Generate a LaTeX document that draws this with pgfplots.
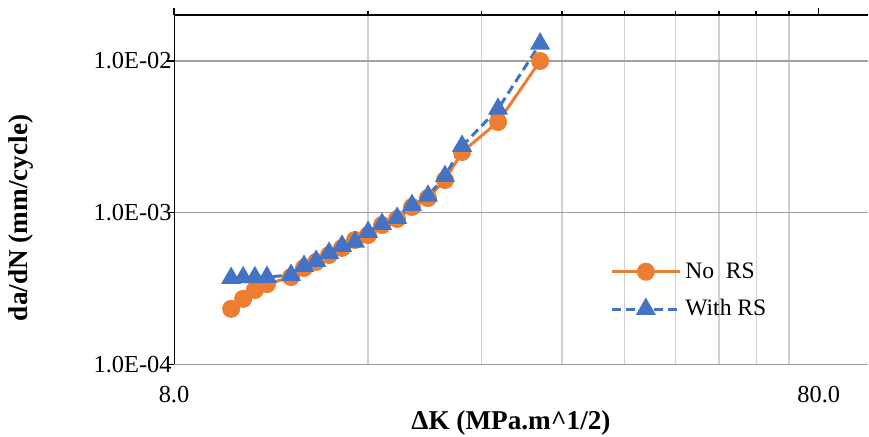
\documentclass[border=0pt]{standalone}
\usepackage{fontspec}
\setmainfont{Liberation Serif}
\usepackage{pgfplots}
\pgfplotsset{compat=1.18}
\definecolor{orangeS}{HTML}{ED7D31}
\definecolor{blueS}{HTML}{4472C4}
\definecolor{hgrid}{HTML}{A0A0A0}
\definecolor{vgrid}{HTML}{D0D0D0}
\begin{document}
\begin{tikzpicture}
\path[use as bounding box] (-87pt,-36.35pt) rectangle (347.5pt,182.15pt);
\begin{axis}[
  at={(0pt,0pt)}, anchor=south west,
  scale only axis, width=347pt, height=174.65pt,
  xmode=log, ymode=log,
  xmin=8, xmax=95.4, ymin=1e-4, ymax=0.0201,
  /pgf/number format/assume math mode=true,
  axis line style={draw=none},
  xtick={8,80}, xticklabels={\textrm{8.0},\textrm{80.0}},
  minor xtick={16,24,32,40,48,56,64,72},
  xtick pos=upper, xticklabel pos=lower,
  ytick={1e-4,1e-3,1e-2}, yticklabels={\textrm{1.0E-04},\textrm{1.0E-03},\textrm{1.0E-02}},
  yminorticks=false,
  ytick pos=left,
  xminorgrids=true, ymajorgrids=true, xmajorgrids=false,
  minor x grid style={vgrid, line width=0.7pt},
  major y grid style={hgrid, line width=0.7pt},
  tick align=outside,
  major tick length=3.5pt, minor tick length=2.2pt,
  every tick/.style={black, line width=0.75pt},
  every tick label/.append style={font=\rmfamily\fontsize{12.2}{14}\selectfont},
  xticklabel style={anchor=center, yshift=-11.4pt},
  yticklabel style={anchor=east, inner sep=0pt, xshift=2.5pt},
  xlabel={\textbf{ΔK (MPa.m\textasciicircum 1/2)}},
  ylabel={\textbf{da/dN (mm/cycle)}},
  label style={font=\rmfamily\fontsize{13.6}{15}\selectfont},
  xlabel style={at={(axis description cs:0.4856,-0.188)}, anchor=base},
  ylabel style={at={(axis description cs:-0.2104,0.419)}, anchor=base, rotate=0},
  legend style={at={(axis description cs:0.6195,0.211)}, anchor=west, draw=none, fill=none,
    font=\rmfamily\fontsize{11.8}{13}\selectfont, row sep=5.2pt},
  legend cell align=left,
  legend image code/.code={\draw[mark repeat=2,mark phase=2,#1] plot coordinates {(0pt,0pt) (17pt,0pt) (34pt,0pt)};},
]
\addplot[color=orangeS, line width=1.5pt, mark=*, mark size=3.75pt, mark options={solid, fill=orangeS, draw=orangeS}]
coordinates {
(9.81,2.32e-4) (10.24,2.70e-4) (10.68,3.09e-4) (11.15,3.38e-4) (12.15,3.76e-4)
(12.73,4.32e-4) (13.29,4.73e-4) (13.92,5.26e-4) (14.58,5.85e-4) (15.27,6.60e-4)
(16.0,7.12e-4) (16.82,8.29e-4) (17.75,9.08e-4) (18.72,1.09e-3) (19.82,1.25e-3)
(21.06,1.64e-3) (22.38,2.51e-3) (25.45,3.96e-3) (29.58,1.0e-2)
};
\addlegendentry{No\ \ RS}
\addplot[color=blueS, line width=1.5pt, dash pattern=on 4.5pt off 2.5pt, mark=triangle*, mark size=4.3pt, mark options={solid, fill=blueS, draw=blueS}]
coordinates {
(9.81,3.70e-4) (10.24,3.74e-4) (10.68,3.74e-4) (11.15,3.76e-4) (12.15,3.88e-4)
(12.73,4.45e-4) (13.29,4.80e-4) (13.92,5.42e-4) (14.58,6.03e-4) (15.27,6.41e-4)
(16.0,7.45e-4) (16.82,8.42e-4) (17.75,9.22e-4) (18.72,1.12e-3) (19.82,1.29e-3)
(21.06,1.74e-3) (22.38,2.75e-3) (25.45,4.83e-3) (29.58,1.30e-2)
};
\addlegendentry{With RS}
\draw[black, line width=0.75pt] (rel axis cs:0,0) -- (rel axis cs:0,1) -- (rel axis cs:1,1);
\end{axis}
\end{tikzpicture}
\end{document}
